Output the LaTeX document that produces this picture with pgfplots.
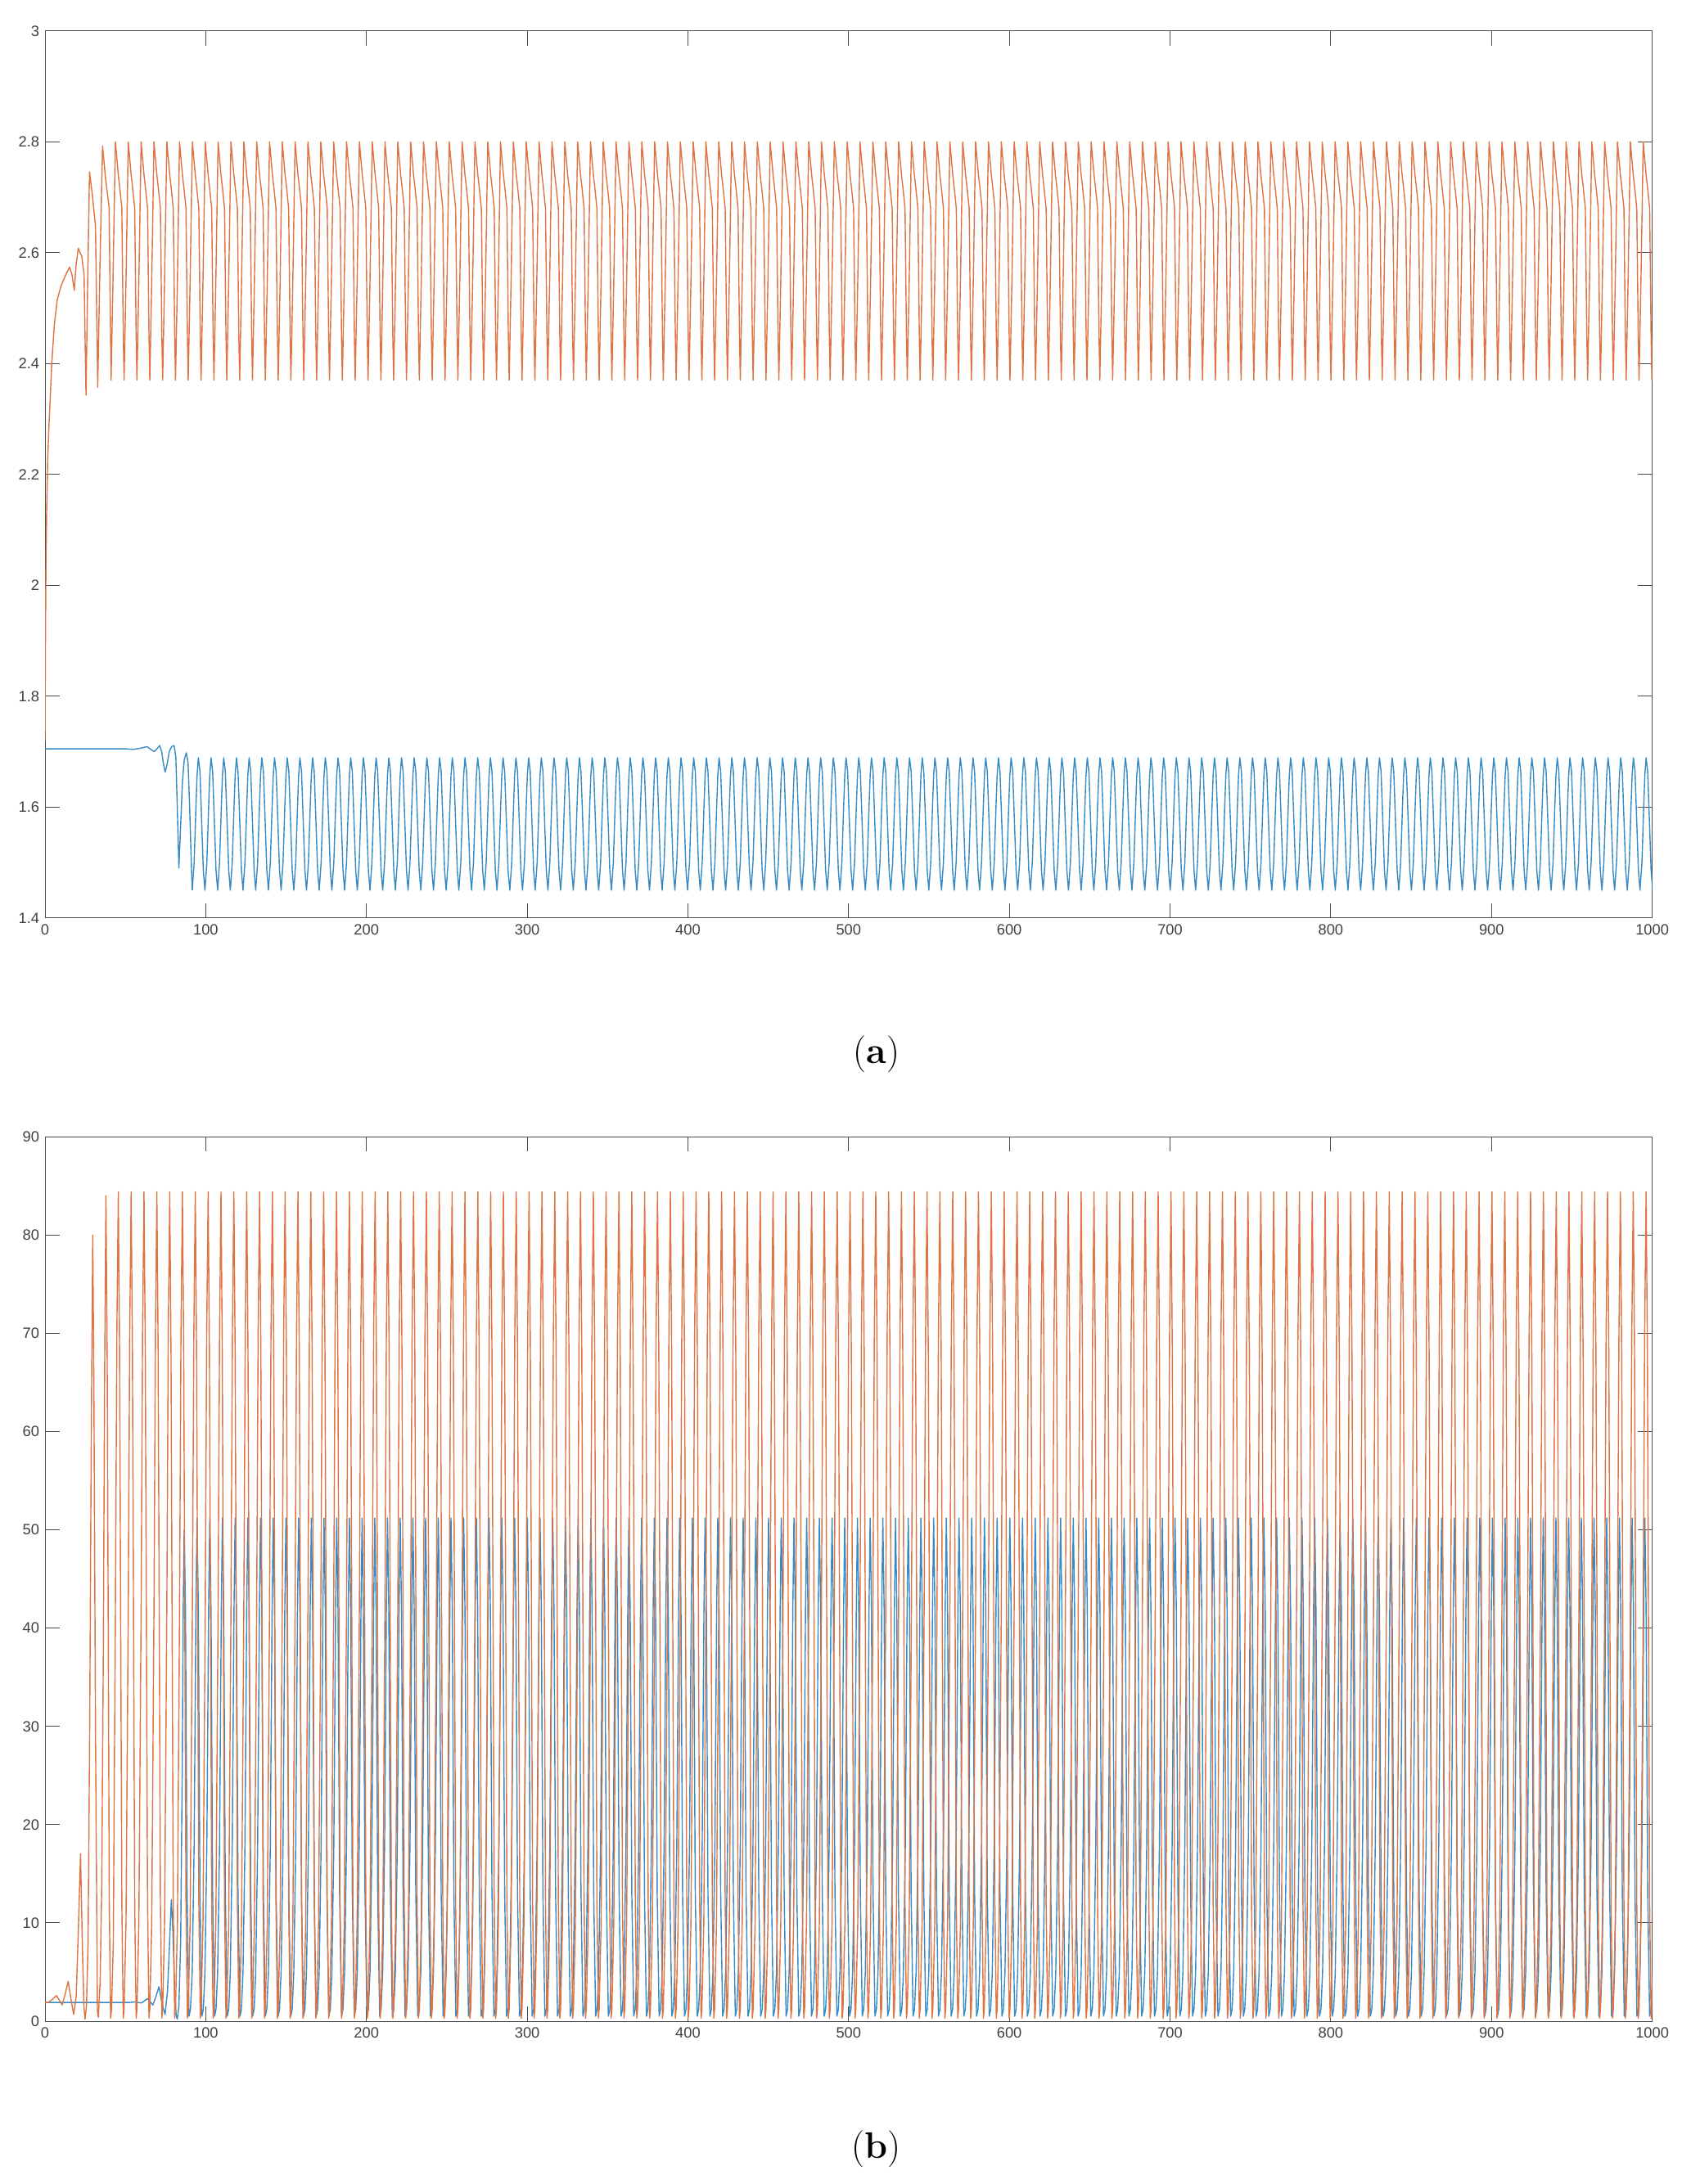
\documentclass[border=0pt]{standalone}
\usepackage{fontspec}
\usepackage{pgfplots}
\usepackage{pgfplotstable}
\pgfplotsset{compat=1.18}
\newfontfamily\octfont{Liberation Sans}
\definecolor{oblue}{RGB}{55,138,195}
\definecolor{oorange}{RGB}{222,115,68}

% steady oscillation, orange variable: x, panel (a), panel (b)
\pgfplotstableread[row sep=\\]{
x a b\\
43.8 2.8 42\\44.7 2.77 70\\45.6 2.74 84.4\\46.4 2.72 68\\47.8 2.68 12\\48.7 2.45 0.3\\49.2 2.37 1.2\\50.4 2.55 10\\
51.8 2.8 42\\52.7 2.77 70\\53.6 2.74 84.4\\54.4 2.72 68\\55.8 2.68 12\\56.7 2.45 0.3\\57.2 2.37 1.2\\58.4 2.55 10\\
59.8 2.8 42\\60.7 2.77 70\\61.6 2.74 84.4\\62.4 2.72 68\\63.8 2.68 12\\64.7 2.45 0.3\\65.2 2.37 1.2\\66.4 2.55 10\\
67.8 2.8 42\\68.7 2.77 70\\69.6 2.74 84.4\\70.4 2.72 68\\71.8 2.68 12\\72.7 2.45 0.3\\73.2 2.37 1.2\\74.4 2.55 10\\
75.8 2.8 42\\76.7 2.77 70\\77.6 2.74 84.4\\78.4 2.72 68\\79.8 2.68 12\\80.7 2.45 0.3\\81.2 2.37 1.2\\82.4 2.55 10\\
83.7 2.8 42\\84.6 2.77 70\\85.5 2.74 84.4\\86.3 2.72 68\\87.7 2.68 12\\88.6 2.45 0.3\\89.1 2.37 1.2\\90.3 2.55 10\\
91.7 2.8 42\\92.6 2.77 70\\93.5 2.74 84.4\\94.3 2.72 68\\95.7 2.68 12\\96.6 2.45 0.3\\97.1 2.37 1.2\\98.3 2.55 10\\
99.7 2.8 42\\100.6 2.77 70\\101.5 2.74 84.4\\102.3 2.72 68\\103.7 2.68 12\\104.6 2.45 0.3\\105.1 2.37 1.2\\106.3 2.55 10\\
107.7 2.8 42\\108.6 2.77 70\\109.5 2.74 84.4\\110.3 2.72 68\\111.7 2.68 12\\112.6 2.45 0.3\\113.1 2.37 1.2\\114.3 2.55 10\\
115.7 2.8 42\\116.6 2.77 70\\117.5 2.74 84.4\\118.3 2.72 68\\119.7 2.68 12\\120.6 2.45 0.3\\121.1 2.37 1.2\\122.3 2.55 10\\
123.7 2.8 42\\124.6 2.77 70\\125.5 2.74 84.4\\126.3 2.72 68\\127.7 2.68 12\\128.6 2.45 0.3\\129.1 2.37 1.2\\130.3 2.55 10\\
131.7 2.8 42\\132.6 2.77 70\\133.5 2.74 84.4\\134.3 2.72 68\\135.7 2.68 12\\136.6 2.45 0.3\\137.1 2.37 1.2\\138.3 2.55 10\\
139.7 2.8 42\\140.6 2.77 70\\141.5 2.74 84.4\\142.3 2.72 68\\143.7 2.68 12\\144.6 2.45 0.3\\145.1 2.37 1.2\\146.3 2.55 10\\
147.6 2.8 42\\148.5 2.77 70\\149.4 2.74 84.4\\150.2 2.72 68\\151.6 2.68 12\\152.5 2.45 0.3\\153.0 2.37 1.2\\154.2 2.55 10\\
155.6 2.8 42\\156.5 2.77 70\\157.4 2.74 84.4\\158.2 2.72 68\\159.6 2.68 12\\160.5 2.45 0.3\\161.0 2.37 1.2\\162.2 2.55 10\\
163.6 2.8 42\\164.5 2.77 70\\165.4 2.74 84.4\\166.2 2.72 68\\167.6 2.68 12\\168.5 2.45 0.3\\169.0 2.37 1.2\\170.2 2.55 10\\
171.6 2.8 42\\172.5 2.77 70\\173.4 2.74 84.4\\174.2 2.72 68\\175.6 2.68 12\\176.5 2.45 0.3\\177.0 2.37 1.2\\178.2 2.55 10\\
179.6 2.8 42\\180.5 2.77 70\\181.4 2.74 84.4\\182.2 2.72 68\\183.6 2.68 12\\184.5 2.45 0.3\\185.0 2.37 1.2\\186.2 2.55 10\\
187.6 2.8 42\\188.5 2.77 70\\189.4 2.74 84.4\\190.2 2.72 68\\191.6 2.68 12\\192.5 2.45 0.3\\193.0 2.37 1.2\\194.2 2.55 10\\
195.6 2.8 42\\196.5 2.77 70\\197.4 2.74 84.4\\198.2 2.72 68\\199.6 2.68 12\\200.5 2.45 0.3\\201.0 2.37 1.2\\202.2 2.55 10\\
203.6 2.8 42\\204.5 2.77 70\\205.4 2.74 84.4\\206.2 2.72 68\\207.6 2.68 12\\208.5 2.45 0.3\\209.0 2.37 1.2\\210.2 2.55 10\\
211.5 2.8 42\\212.4 2.77 70\\213.3 2.74 84.4\\214.1 2.72 68\\215.5 2.68 12\\216.4 2.45 0.3\\216.9 2.37 1.2\\218.1 2.55 10\\
219.5 2.8 42\\220.4 2.77 70\\221.3 2.74 84.4\\222.1 2.72 68\\223.5 2.68 12\\224.4 2.45 0.3\\224.9 2.37 1.2\\226.1 2.55 10\\
227.5 2.8 42\\228.4 2.77 70\\229.3 2.74 84.4\\230.1 2.72 68\\231.5 2.68 12\\232.4 2.45 0.3\\232.9 2.37 1.2\\234.1 2.55 10\\
235.5 2.8 42\\236.4 2.77 70\\237.3 2.74 84.4\\238.1 2.72 68\\239.5 2.68 12\\240.4 2.45 0.3\\240.9 2.37 1.2\\242.1 2.55 10\\
243.5 2.8 42\\244.4 2.77 70\\245.3 2.74 84.4\\246.1 2.72 68\\247.5 2.68 12\\248.4 2.45 0.3\\248.9 2.37 1.2\\250.1 2.55 10\\
251.5 2.8 42\\252.4 2.77 70\\253.3 2.74 84.4\\254.1 2.72 68\\255.5 2.68 12\\256.4 2.45 0.3\\256.9 2.37 1.2\\258.1 2.55 10\\
259.5 2.8 42\\260.4 2.77 70\\261.3 2.74 84.4\\262.1 2.72 68\\263.5 2.68 12\\264.4 2.45 0.3\\264.9 2.37 1.2\\266.1 2.55 10\\
267.5 2.8 42\\268.4 2.77 70\\269.3 2.74 84.4\\270.1 2.72 68\\271.5 2.68 12\\272.4 2.45 0.3\\272.9 2.37 1.2\\274.1 2.55 10\\
275.5 2.8 42\\276.4 2.77 70\\277.3 2.74 84.4\\278.1 2.72 68\\279.5 2.68 12\\280.4 2.45 0.3\\280.9 2.37 1.2\\282.1 2.55 10\\
283.4 2.8 42\\284.3 2.77 70\\285.2 2.74 84.4\\286.0 2.72 68\\287.4 2.68 12\\288.3 2.45 0.3\\288.8 2.37 1.2\\290.0 2.55 10\\
291.4 2.8 42\\292.3 2.77 70\\293.2 2.74 84.4\\294.0 2.72 68\\295.4 2.68 12\\296.3 2.45 0.3\\296.8 2.37 1.2\\298.0 2.55 10\\
299.4 2.8 42\\300.3 2.77 70\\301.2 2.74 84.4\\302.0 2.72 68\\303.4 2.68 12\\304.3 2.45 0.3\\304.8 2.37 1.2\\306.0 2.55 10\\
307.4 2.8 42\\308.3 2.77 70\\309.2 2.74 84.4\\310.0 2.72 68\\311.4 2.68 12\\312.3 2.45 0.3\\312.8 2.37 1.2\\314.0 2.55 10\\
315.4 2.8 42\\316.3 2.77 70\\317.2 2.74 84.4\\318.0 2.72 68\\319.4 2.68 12\\320.3 2.45 0.3\\320.8 2.37 1.2\\322.0 2.55 10\\
323.4 2.8 42\\324.3 2.77 70\\325.2 2.74 84.4\\326.0 2.72 68\\327.4 2.68 12\\328.3 2.45 0.3\\328.8 2.37 1.2\\330.0 2.55 10\\
331.4 2.8 42\\332.3 2.77 70\\333.2 2.74 84.4\\334.0 2.72 68\\335.4 2.68 12\\336.3 2.45 0.3\\336.8 2.37 1.2\\338.0 2.55 10\\
339.4 2.8 42\\340.3 2.77 70\\341.2 2.74 84.4\\342.0 2.72 68\\343.4 2.68 12\\344.3 2.45 0.3\\344.8 2.37 1.2\\346.0 2.55 10\\
347.3 2.8 42\\348.2 2.77 70\\349.1 2.74 84.4\\349.9 2.72 68\\351.3 2.68 12\\352.2 2.45 0.3\\352.7 2.37 1.2\\353.9 2.55 10\\
355.3 2.8 42\\356.2 2.77 70\\357.1 2.74 84.4\\357.9 2.72 68\\359.3 2.68 12\\360.2 2.45 0.3\\360.7 2.37 1.2\\361.9 2.55 10\\
363.3 2.8 42\\364.2 2.77 70\\365.1 2.74 84.4\\365.9 2.72 68\\367.3 2.68 12\\368.2 2.45 0.3\\368.7 2.37 1.2\\369.9 2.55 10\\
371.3 2.8 42\\372.2 2.77 70\\373.1 2.74 84.4\\373.9 2.72 68\\375.3 2.68 12\\376.2 2.45 0.3\\376.7 2.37 1.2\\377.9 2.55 10\\
379.3 2.8 42\\380.2 2.77 70\\381.1 2.74 84.4\\381.9 2.72 68\\383.3 2.68 12\\384.2 2.45 0.3\\384.7 2.37 1.2\\385.9 2.55 10\\
387.3 2.8 42\\388.2 2.77 70\\389.1 2.74 84.4\\389.9 2.72 68\\391.3 2.68 12\\392.2 2.45 0.3\\392.7 2.37 1.2\\393.9 2.55 10\\
395.3 2.8 42\\396.2 2.77 70\\397.1 2.74 84.4\\397.9 2.72 68\\399.3 2.68 12\\400.2 2.45 0.3\\400.7 2.37 1.2\\401.9 2.55 10\\
403.3 2.8 42\\404.2 2.77 70\\405.1 2.74 84.4\\405.9 2.72 68\\407.3 2.68 12\\408.2 2.45 0.3\\408.7 2.37 1.2\\409.9 2.55 10\\
411.2 2.8 42\\412.1 2.77 70\\413.0 2.74 84.4\\413.8 2.72 68\\415.2 2.68 12\\416.1 2.45 0.3\\416.6 2.37 1.2\\417.8 2.55 10\\
419.2 2.8 42\\420.1 2.77 70\\421.0 2.74 84.4\\421.8 2.72 68\\423.2 2.68 12\\424.1 2.45 0.3\\424.6 2.37 1.2\\425.8 2.55 10\\
427.2 2.8 42\\428.1 2.77 70\\429.0 2.74 84.4\\429.8 2.72 68\\431.2 2.68 12\\432.1 2.45 0.3\\432.6 2.37 1.2\\433.8 2.55 10\\
435.2 2.8 42\\436.1 2.77 70\\437.0 2.74 84.4\\437.8 2.72 68\\439.2 2.68 12\\440.1 2.45 0.3\\440.6 2.37 1.2\\441.8 2.55 10\\
443.2 2.8 42\\444.1 2.77 70\\445.0 2.74 84.4\\445.8 2.72 68\\447.2 2.68 12\\448.1 2.45 0.3\\448.6 2.37 1.2\\449.8 2.55 10\\
451.2 2.8 42\\452.1 2.77 70\\453.0 2.74 84.4\\453.8 2.72 68\\455.2 2.68 12\\456.1 2.45 0.3\\456.6 2.37 1.2\\457.8 2.55 10\\
459.2 2.8 42\\460.1 2.77 70\\461.0 2.74 84.4\\461.8 2.72 68\\463.2 2.68 12\\464.1 2.45 0.3\\464.6 2.37 1.2\\465.8 2.55 10\\
467.2 2.8 42\\468.1 2.77 70\\469.0 2.74 84.4\\469.8 2.72 68\\471.2 2.68 12\\472.1 2.45 0.3\\472.6 2.37 1.2\\473.8 2.55 10\\
475.2 2.8 42\\476.1 2.77 70\\477.0 2.74 84.4\\477.8 2.72 68\\479.2 2.68 12\\480.1 2.45 0.3\\480.6 2.37 1.2\\481.8 2.55 10\\
483.1 2.8 42\\484.0 2.77 70\\484.9 2.74 84.4\\485.7 2.72 68\\487.1 2.68 12\\488.0 2.45 0.3\\488.5 2.37 1.2\\489.7 2.55 10\\
491.1 2.8 42\\492.0 2.77 70\\492.9 2.74 84.4\\493.7 2.72 68\\495.1 2.68 12\\496.0 2.45 0.3\\496.5 2.37 1.2\\497.7 2.55 10\\
499.1 2.8 42\\500.0 2.77 70\\500.9 2.74 84.4\\501.7 2.72 68\\503.1 2.68 12\\504.0 2.45 0.3\\504.5 2.37 1.2\\505.7 2.55 10\\
507.1 2.8 42\\508.0 2.77 70\\508.9 2.74 84.4\\509.7 2.72 68\\511.1 2.68 12\\512.0 2.45 0.3\\512.5 2.37 1.2\\513.7 2.55 10\\
515.1 2.8 42\\516.0 2.77 70\\516.9 2.74 84.4\\517.7 2.72 68\\519.1 2.68 12\\520.0 2.45 0.3\\520.5 2.37 1.2\\521.7 2.55 10\\
523.1 2.8 42\\524.0 2.77 70\\524.9 2.74 84.4\\525.7 2.72 68\\527.1 2.68 12\\528.0 2.45 0.3\\528.5 2.37 1.2\\529.7 2.55 10\\
531.1 2.8 42\\532.0 2.77 70\\532.9 2.74 84.4\\533.7 2.72 68\\535.1 2.68 12\\536.0 2.45 0.3\\536.5 2.37 1.2\\537.7 2.55 10\\
539.1 2.8 42\\540.0 2.77 70\\540.9 2.74 84.4\\541.7 2.72 68\\543.1 2.68 12\\544.0 2.45 0.3\\544.5 2.37 1.2\\545.7 2.55 10\\
547.0 2.8 42\\547.9 2.77 70\\548.8 2.74 84.4\\549.6 2.72 68\\551.0 2.68 12\\551.9 2.45 0.3\\552.4 2.37 1.2\\553.6 2.55 10\\
555.0 2.8 42\\555.9 2.77 70\\556.8 2.74 84.4\\557.6 2.72 68\\559.0 2.68 12\\559.9 2.45 0.3\\560.4 2.37 1.2\\561.6 2.55 10\\
563.0 2.8 42\\563.9 2.77 70\\564.8 2.74 84.4\\565.6 2.72 68\\567.0 2.68 12\\567.9 2.45 0.3\\568.4 2.37 1.2\\569.6 2.55 10\\
571.0 2.8 42\\571.9 2.77 70\\572.8 2.74 84.4\\573.6 2.72 68\\575.0 2.68 12\\575.9 2.45 0.3\\576.4 2.37 1.2\\577.6 2.55 10\\
579.0 2.8 42\\579.9 2.77 70\\580.8 2.74 84.4\\581.6 2.72 68\\583.0 2.68 12\\583.9 2.45 0.3\\584.4 2.37 1.2\\585.6 2.55 10\\
587.0 2.8 42\\587.9 2.77 70\\588.8 2.74 84.4\\589.6 2.72 68\\591.0 2.68 12\\591.9 2.45 0.3\\592.4 2.37 1.2\\593.6 2.55 10\\
595.0 2.8 42\\595.9 2.77 70\\596.8 2.74 84.4\\597.6 2.72 68\\599.0 2.68 12\\599.9 2.45 0.3\\600.4 2.37 1.2\\601.6 2.55 10\\
603.0 2.8 42\\603.9 2.77 70\\604.8 2.74 84.4\\605.6 2.72 68\\607.0 2.68 12\\607.9 2.45 0.3\\608.4 2.37 1.2\\609.6 2.55 10\\
610.9 2.8 42\\611.8 2.77 70\\612.7 2.74 84.4\\613.5 2.72 68\\614.9 2.68 12\\615.8 2.45 0.3\\616.3 2.37 1.2\\617.5 2.55 10\\
618.9 2.8 42\\619.8 2.77 70\\620.7 2.74 84.4\\621.5 2.72 68\\622.9 2.68 12\\623.8 2.45 0.3\\624.3 2.37 1.2\\625.5 2.55 10\\
626.9 2.8 42\\627.8 2.77 70\\628.7 2.74 84.4\\629.5 2.72 68\\630.9 2.68 12\\631.8 2.45 0.3\\632.3 2.37 1.2\\633.5 2.55 10\\
634.9 2.8 42\\635.8 2.77 70\\636.7 2.74 84.4\\637.5 2.72 68\\638.9 2.68 12\\639.8 2.45 0.3\\640.3 2.37 1.2\\641.5 2.55 10\\
642.9 2.8 42\\643.8 2.77 70\\644.7 2.74 84.4\\645.5 2.72 68\\646.9 2.68 12\\647.8 2.45 0.3\\648.3 2.37 1.2\\649.5 2.55 10\\
650.9 2.8 42\\651.8 2.77 70\\652.7 2.74 84.4\\653.5 2.72 68\\654.9 2.68 12\\655.8 2.45 0.3\\656.3 2.37 1.2\\657.5 2.55 10\\
658.9 2.8 42\\659.8 2.77 70\\660.7 2.74 84.4\\661.5 2.72 68\\662.9 2.68 12\\663.8 2.45 0.3\\664.3 2.37 1.2\\665.5 2.55 10\\
666.9 2.8 42\\667.8 2.77 70\\668.7 2.74 84.4\\669.5 2.72 68\\670.9 2.68 12\\671.8 2.45 0.3\\672.3 2.37 1.2\\673.5 2.55 10\\
674.9 2.8 42\\675.8 2.77 70\\676.7 2.74 84.4\\677.5 2.72 68\\678.9 2.68 12\\679.8 2.45 0.3\\680.3 2.37 1.2\\681.5 2.55 10\\
682.8 2.8 42\\683.7 2.77 70\\684.6 2.74 84.4\\685.4 2.72 68\\686.8 2.68 12\\687.7 2.45 0.3\\688.2 2.37 1.2\\689.4 2.55 10\\
690.8 2.8 42\\691.7 2.77 70\\692.6 2.74 84.4\\693.4 2.72 68\\694.8 2.68 12\\695.7 2.45 0.3\\696.2 2.37 1.2\\697.4 2.55 10\\
698.8 2.8 42\\699.7 2.77 70\\700.6 2.74 84.4\\701.4 2.72 68\\702.8 2.68 12\\703.7 2.45 0.3\\704.2 2.37 1.2\\705.4 2.55 10\\
706.8 2.8 42\\707.7 2.77 70\\708.6 2.74 84.4\\709.4 2.72 68\\710.8 2.68 12\\711.7 2.45 0.3\\712.2 2.37 1.2\\713.4 2.55 10\\
714.8 2.8 42\\715.7 2.77 70\\716.6 2.74 84.4\\717.4 2.72 68\\718.8 2.68 12\\719.7 2.45 0.3\\720.2 2.37 1.2\\721.4 2.55 10\\
722.8 2.8 42\\723.7 2.77 70\\724.6 2.74 84.4\\725.4 2.72 68\\726.8 2.68 12\\727.7 2.45 0.3\\728.2 2.37 1.2\\729.4 2.55 10\\
730.8 2.8 42\\731.7 2.77 70\\732.6 2.74 84.4\\733.4 2.72 68\\734.8 2.68 12\\735.7 2.45 0.3\\736.2 2.37 1.2\\737.4 2.55 10\\
738.8 2.8 42\\739.7 2.77 70\\740.6 2.74 84.4\\741.4 2.72 68\\742.8 2.68 12\\743.7 2.45 0.3\\744.2 2.37 1.2\\745.4 2.55 10\\
746.7 2.8 42\\747.6 2.77 70\\748.5 2.74 84.4\\749.3 2.72 68\\750.7 2.68 12\\751.6 2.45 0.3\\752.1 2.37 1.2\\753.3 2.55 10\\
754.7 2.8 42\\755.6 2.77 70\\756.5 2.74 84.4\\757.3 2.72 68\\758.7 2.68 12\\759.6 2.45 0.3\\760.1 2.37 1.2\\761.3 2.55 10\\
762.7 2.8 42\\763.6 2.77 70\\764.5 2.74 84.4\\765.3 2.72 68\\766.7 2.68 12\\767.6 2.45 0.3\\768.1 2.37 1.2\\769.3 2.55 10\\
770.7 2.8 42\\771.6 2.77 70\\772.5 2.74 84.4\\773.3 2.72 68\\774.7 2.68 12\\775.6 2.45 0.3\\776.1 2.37 1.2\\777.3 2.55 10\\
778.7 2.8 42\\779.6 2.77 70\\780.5 2.74 84.4\\781.3 2.72 68\\782.7 2.68 12\\783.6 2.45 0.3\\784.1 2.37 1.2\\785.3 2.55 10\\
786.7 2.8 42\\787.6 2.77 70\\788.5 2.74 84.4\\789.3 2.72 68\\790.7 2.68 12\\791.6 2.45 0.3\\792.1 2.37 1.2\\793.3 2.55 10\\
794.7 2.8 42\\795.6 2.77 70\\796.5 2.74 84.4\\797.3 2.72 68\\798.7 2.68 12\\799.6 2.45 0.3\\800.1 2.37 1.2\\801.3 2.55 10\\
802.7 2.8 42\\803.6 2.77 70\\804.5 2.74 84.4\\805.3 2.72 68\\806.7 2.68 12\\807.6 2.45 0.3\\808.1 2.37 1.2\\809.3 2.55 10\\
810.6 2.8 42\\811.5 2.77 70\\812.4 2.74 84.4\\813.2 2.72 68\\814.6 2.68 12\\815.5 2.45 0.3\\816.0 2.37 1.2\\817.2 2.55 10\\
818.6 2.8 42\\819.5 2.77 70\\820.4 2.74 84.4\\821.2 2.72 68\\822.6 2.68 12\\823.5 2.45 0.3\\824.0 2.37 1.2\\825.2 2.55 10\\
826.6 2.8 42\\827.5 2.77 70\\828.4 2.74 84.4\\829.2 2.72 68\\830.6 2.68 12\\831.5 2.45 0.3\\832.0 2.37 1.2\\833.2 2.55 10\\
834.6 2.8 42\\835.5 2.77 70\\836.4 2.74 84.4\\837.2 2.72 68\\838.6 2.68 12\\839.5 2.45 0.3\\840.0 2.37 1.2\\841.2 2.55 10\\
842.6 2.8 42\\843.5 2.77 70\\844.4 2.74 84.4\\845.2 2.72 68\\846.6 2.68 12\\847.5 2.45 0.3\\848.0 2.37 1.2\\849.2 2.55 10\\
850.6 2.8 42\\851.5 2.77 70\\852.4 2.74 84.4\\853.2 2.72 68\\854.6 2.68 12\\855.5 2.45 0.3\\856.0 2.37 1.2\\857.2 2.55 10\\
858.6 2.8 42\\859.5 2.77 70\\860.4 2.74 84.4\\861.2 2.72 68\\862.6 2.68 12\\863.5 2.45 0.3\\864.0 2.37 1.2\\865.2 2.55 10\\
866.6 2.8 42\\867.5 2.77 70\\868.4 2.74 84.4\\869.2 2.72 68\\870.6 2.68 12\\871.5 2.45 0.3\\872.0 2.37 1.2\\873.2 2.55 10\\
874.6 2.8 42\\875.5 2.77 70\\876.4 2.74 84.4\\877.2 2.72 68\\878.6 2.68 12\\879.5 2.45 0.3\\880.0 2.37 1.2\\881.2 2.55 10\\
882.5 2.8 42\\883.4 2.77 70\\884.3 2.74 84.4\\885.1 2.72 68\\886.5 2.68 12\\887.4 2.45 0.3\\887.9 2.37 1.2\\889.1 2.55 10\\
890.5 2.8 42\\891.4 2.77 70\\892.3 2.74 84.4\\893.1 2.72 68\\894.5 2.68 12\\895.4 2.45 0.3\\895.9 2.37 1.2\\897.1 2.55 10\\
898.5 2.8 42\\899.4 2.77 70\\900.3 2.74 84.4\\901.1 2.72 68\\902.5 2.68 12\\903.4 2.45 0.3\\903.9 2.37 1.2\\905.1 2.55 10\\
906.5 2.8 42\\907.4 2.77 70\\908.3 2.74 84.4\\909.1 2.72 68\\910.5 2.68 12\\911.4 2.45 0.3\\911.9 2.37 1.2\\913.1 2.55 10\\
914.5 2.8 42\\915.4 2.77 70\\916.3 2.74 84.4\\917.1 2.72 68\\918.5 2.68 12\\919.4 2.45 0.3\\919.9 2.37 1.2\\921.1 2.55 10\\
922.5 2.8 42\\923.4 2.77 70\\924.3 2.74 84.4\\925.1 2.72 68\\926.5 2.68 12\\927.4 2.45 0.3\\927.9 2.37 1.2\\929.1 2.55 10\\
930.5 2.8 42\\931.4 2.77 70\\932.3 2.74 84.4\\933.1 2.72 68\\934.5 2.68 12\\935.4 2.45 0.3\\935.9 2.37 1.2\\937.1 2.55 10\\
938.5 2.8 42\\939.4 2.77 70\\940.3 2.74 84.4\\941.1 2.72 68\\942.5 2.68 12\\943.4 2.45 0.3\\943.9 2.37 1.2\\945.1 2.55 10\\
946.4 2.8 42\\947.3 2.77 70\\948.2 2.74 84.4\\949.0 2.72 68\\950.4 2.68 12\\951.3 2.45 0.3\\951.8 2.37 1.2\\953.0 2.55 10\\
954.4 2.8 42\\955.3 2.77 70\\956.2 2.74 84.4\\957.0 2.72 68\\958.4 2.68 12\\959.3 2.45 0.3\\959.8 2.37 1.2\\961.0 2.55 10\\
962.4 2.8 42\\963.3 2.77 70\\964.2 2.74 84.4\\965.0 2.72 68\\966.4 2.68 12\\967.3 2.45 0.3\\967.8 2.37 1.2\\969.0 2.55 10\\
970.4 2.8 42\\971.3 2.77 70\\972.2 2.74 84.4\\973.0 2.72 68\\974.4 2.68 12\\975.3 2.45 0.3\\975.8 2.37 1.2\\977.0 2.55 10\\
978.4 2.8 42\\979.3 2.77 70\\980.2 2.74 84.4\\981.0 2.72 68\\982.4 2.68 12\\983.3 2.45 0.3\\983.8 2.37 1.2\\985.0 2.55 10\\
986.4 2.8 42\\987.3 2.77 70\\988.2 2.74 84.4\\989.0 2.72 68\\990.4 2.68 12\\991.3 2.45 0.3\\991.8 2.37 1.2\\993.0 2.55 10\\
994.4 2.8 42\\995.3 2.77 70\\996.2 2.74 84.4\\997.0 2.72 68\\998.4 2.68 12\\999.3 2.45 0.3\\999.8 2.37 1.2\\1001.0 2.55 10\\
}\orangedata

% steady oscillation, blue variable: x, panel (a), panel (b)
\pgfplotstableread[row sep=\\]{
x a b\\
91.6 1.45 5\\92.8 1.5 18\\93.9 1.6 42\\94.6 1.657 51.2\\95.4 1.689 42\\96.4 1.664 13\\97.6 1.563 0.5\\98.5 1.486 1.2\\
99.5 1.45 5\\100.7 1.5 18\\101.8 1.6 42\\102.5 1.657 51.2\\103.3 1.689 42\\104.3 1.664 13\\105.5 1.563 0.5\\106.4 1.486 1.2\\
107.4 1.45 5\\108.6 1.5 18\\109.7 1.6 42\\110.4 1.657 51.2\\111.2 1.689 42\\112.2 1.664 13\\113.4 1.563 0.5\\114.3 1.486 1.2\\
115.3 1.45 5\\116.5 1.5 18\\117.6 1.6 42\\118.3 1.657 51.2\\119.1 1.689 42\\120.1 1.664 13\\121.3 1.563 0.5\\122.2 1.486 1.2\\
123.2 1.45 5\\124.4 1.5 18\\125.5 1.6 42\\126.2 1.657 51.2\\127.0 1.689 42\\128.0 1.664 13\\129.2 1.563 0.5\\130.1 1.486 1.2\\
131.1 1.45 5\\132.3 1.5 18\\133.4 1.6 42\\134.1 1.657 51.2\\134.9 1.689 42\\135.9 1.664 13\\137.1 1.563 0.5\\138.0 1.486 1.2\\
139.0 1.45 5\\140.2 1.5 18\\141.3 1.6 42\\142.0 1.657 51.2\\142.8 1.689 42\\143.8 1.664 13\\145.0 1.563 0.5\\145.9 1.486 1.2\\
146.9 1.45 5\\148.1 1.5 18\\149.2 1.6 42\\149.9 1.657 51.2\\150.7 1.689 42\\151.7 1.664 13\\152.9 1.563 0.5\\153.8 1.486 1.2\\
154.8 1.45 5\\156.0 1.5 18\\157.1 1.6 42\\157.8 1.657 51.2\\158.6 1.689 42\\159.6 1.664 13\\160.8 1.563 0.5\\161.7 1.486 1.2\\
162.7 1.45 5\\163.9 1.5 18\\165.0 1.6 42\\165.7 1.657 51.2\\166.5 1.689 42\\167.5 1.664 13\\168.7 1.563 0.5\\169.6 1.486 1.2\\
170.6 1.45 5\\171.8 1.5 18\\172.9 1.6 42\\173.6 1.657 51.2\\174.4 1.689 42\\175.4 1.664 13\\176.6 1.563 0.5\\177.5 1.486 1.2\\
178.5 1.45 5\\179.7 1.5 18\\180.8 1.6 42\\181.5 1.657 51.2\\182.3 1.689 42\\183.3 1.664 13\\184.5 1.563 0.5\\185.4 1.486 1.2\\
186.4 1.45 5\\187.6 1.5 18\\188.7 1.6 42\\189.4 1.657 51.2\\190.2 1.689 42\\191.2 1.664 13\\192.4 1.563 0.5\\193.3 1.486 1.2\\
194.3 1.45 5\\195.5 1.5 18\\196.6 1.6 42\\197.3 1.657 51.2\\198.1 1.689 42\\199.1 1.664 13\\200.3 1.563 0.5\\201.2 1.486 1.2\\
202.2 1.45 5\\203.4 1.5 18\\204.5 1.6 42\\205.2 1.657 51.2\\206.0 1.689 42\\207.0 1.664 13\\208.2 1.563 0.5\\209.1 1.486 1.2\\
210.1 1.45 5\\211.3 1.5 18\\212.4 1.6 42\\213.1 1.657 51.2\\213.9 1.689 42\\214.9 1.664 13\\216.1 1.563 0.5\\217.0 1.486 1.2\\
218.0 1.45 5\\219.2 1.5 18\\220.3 1.6 42\\221.0 1.657 51.2\\221.8 1.689 42\\222.8 1.664 13\\224.0 1.563 0.5\\224.9 1.486 1.2\\
225.9 1.45 5\\227.1 1.5 18\\228.2 1.6 42\\228.9 1.657 51.2\\229.7 1.689 42\\230.7 1.664 13\\231.9 1.563 0.5\\232.8 1.486 1.2\\
233.8 1.45 5\\235.0 1.5 18\\236.1 1.6 42\\236.8 1.657 51.2\\237.6 1.689 42\\238.6 1.664 13\\239.8 1.563 0.5\\240.7 1.486 1.2\\
241.7 1.45 5\\242.9 1.5 18\\244.0 1.6 42\\244.7 1.657 51.2\\245.5 1.689 42\\246.5 1.664 13\\247.7 1.563 0.5\\248.6 1.486 1.2\\
249.6 1.45 5\\250.8 1.5 18\\251.9 1.6 42\\252.6 1.657 51.2\\253.4 1.689 42\\254.4 1.664 13\\255.6 1.563 0.5\\256.5 1.486 1.2\\
257.5 1.45 5\\258.7 1.5 18\\259.8 1.6 42\\260.5 1.657 51.2\\261.3 1.689 42\\262.3 1.664 13\\263.5 1.563 0.5\\264.4 1.486 1.2\\
265.4 1.45 5\\266.6 1.5 18\\267.7 1.6 42\\268.4 1.657 51.2\\269.2 1.689 42\\270.2 1.664 13\\271.4 1.563 0.5\\272.3 1.486 1.2\\
273.3 1.45 5\\274.5 1.5 18\\275.6 1.6 42\\276.3 1.657 51.2\\277.1 1.689 42\\278.1 1.664 13\\279.3 1.563 0.5\\280.2 1.486 1.2\\
281.2 1.45 5\\282.4 1.5 18\\283.5 1.6 42\\284.2 1.657 51.2\\285.0 1.689 42\\286.0 1.664 13\\287.2 1.563 0.5\\288.1 1.486 1.2\\
289.2 1.45 5\\290.4 1.5 18\\291.5 1.6 42\\292.2 1.657 51.2\\293.0 1.689 42\\294.0 1.664 13\\295.2 1.563 0.5\\296.1 1.486 1.2\\
297.1 1.45 5\\298.3 1.5 18\\299.4 1.6 42\\300.1 1.657 51.2\\300.9 1.689 42\\301.9 1.664 13\\303.1 1.563 0.5\\304.0 1.486 1.2\\
305.0 1.45 5\\306.2 1.5 18\\307.3 1.6 42\\308.0 1.657 51.2\\308.8 1.689 42\\309.8 1.664 13\\311.0 1.563 0.5\\311.9 1.486 1.2\\
312.9 1.45 5\\314.1 1.5 18\\315.2 1.6 42\\315.9 1.657 51.2\\316.7 1.689 42\\317.7 1.664 13\\318.9 1.563 0.5\\319.8 1.486 1.2\\
320.8 1.45 5\\322.0 1.5 18\\323.1 1.6 42\\323.8 1.657 51.2\\324.6 1.689 42\\325.6 1.664 13\\326.8 1.563 0.5\\327.7 1.486 1.2\\
328.7 1.45 5\\329.9 1.5 18\\331.0 1.6 42\\331.7 1.657 51.2\\332.5 1.689 42\\333.5 1.664 13\\334.7 1.563 0.5\\335.6 1.486 1.2\\
336.6 1.45 5\\337.8 1.5 18\\338.9 1.6 42\\339.6 1.657 51.2\\340.4 1.689 42\\341.4 1.664 13\\342.6 1.563 0.5\\343.5 1.486 1.2\\
344.5 1.45 5\\345.7 1.5 18\\346.8 1.6 42\\347.5 1.657 51.2\\348.3 1.689 42\\349.3 1.664 13\\350.5 1.563 0.5\\351.4 1.486 1.2\\
352.4 1.45 5\\353.6 1.5 18\\354.7 1.6 42\\355.4 1.657 51.2\\356.2 1.689 42\\357.2 1.664 13\\358.4 1.563 0.5\\359.3 1.486 1.2\\
360.3 1.45 5\\361.5 1.5 18\\362.6 1.6 42\\363.3 1.657 51.2\\364.1 1.689 42\\365.1 1.664 13\\366.3 1.563 0.5\\367.2 1.486 1.2\\
368.2 1.45 5\\369.4 1.5 18\\370.5 1.6 42\\371.2 1.657 51.2\\372.0 1.689 42\\373.0 1.664 13\\374.2 1.563 0.5\\375.1 1.486 1.2\\
376.1 1.45 5\\377.3 1.5 18\\378.4 1.6 42\\379.1 1.657 51.2\\379.9 1.689 42\\380.9 1.664 13\\382.1 1.563 0.5\\383.0 1.486 1.2\\
384.0 1.45 5\\385.2 1.5 18\\386.3 1.6 42\\387.0 1.657 51.2\\387.8 1.689 42\\388.8 1.664 13\\390.0 1.563 0.5\\390.9 1.486 1.2\\
391.9 1.45 5\\393.1 1.5 18\\394.2 1.6 42\\394.9 1.657 51.2\\395.7 1.689 42\\396.7 1.664 13\\397.9 1.563 0.5\\398.8 1.486 1.2\\
399.8 1.45 5\\401.0 1.5 18\\402.1 1.6 42\\402.8 1.657 51.2\\403.6 1.689 42\\404.6 1.664 13\\405.8 1.563 0.5\\406.7 1.486 1.2\\
407.7 1.45 5\\408.9 1.5 18\\410.0 1.6 42\\410.7 1.657 51.2\\411.5 1.689 42\\412.5 1.664 13\\413.7 1.563 0.5\\414.6 1.486 1.2\\
415.6 1.45 5\\416.8 1.5 18\\417.9 1.6 42\\418.6 1.657 51.2\\419.4 1.689 42\\420.4 1.664 13\\421.6 1.563 0.5\\422.5 1.486 1.2\\
423.5 1.45 5\\424.7 1.5 18\\425.8 1.6 42\\426.5 1.657 51.2\\427.3 1.689 42\\428.3 1.664 13\\429.5 1.563 0.5\\430.4 1.486 1.2\\
431.4 1.45 5\\432.6 1.5 18\\433.7 1.6 42\\434.4 1.657 51.2\\435.2 1.689 42\\436.2 1.664 13\\437.4 1.563 0.5\\438.3 1.486 1.2\\
439.3 1.45 5\\440.5 1.5 18\\441.6 1.6 42\\442.3 1.657 51.2\\443.1 1.689 42\\444.1 1.664 13\\445.3 1.563 0.5\\446.2 1.486 1.2\\
447.2 1.45 5\\448.4 1.5 18\\449.5 1.6 42\\450.2 1.657 51.2\\451.0 1.689 42\\452.0 1.664 13\\453.2 1.563 0.5\\454.1 1.486 1.2\\
455.1 1.45 5\\456.3 1.5 18\\457.4 1.6 42\\458.1 1.657 51.2\\458.9 1.689 42\\459.9 1.664 13\\461.1 1.563 0.5\\462.0 1.486 1.2\\
463.0 1.45 5\\464.2 1.5 18\\465.3 1.6 42\\466.0 1.657 51.2\\466.8 1.689 42\\467.8 1.664 13\\469.0 1.563 0.5\\469.9 1.486 1.2\\
470.9 1.45 5\\472.1 1.5 18\\473.2 1.6 42\\473.9 1.657 51.2\\474.7 1.689 42\\475.7 1.664 13\\476.9 1.563 0.5\\477.8 1.486 1.2\\
478.8 1.45 5\\480.0 1.5 18\\481.1 1.6 42\\481.8 1.657 51.2\\482.6 1.689 42\\483.6 1.664 13\\484.8 1.563 0.5\\485.7 1.486 1.2\\
486.7 1.45 5\\487.9 1.5 18\\489.0 1.6 42\\489.7 1.657 51.2\\490.5 1.689 42\\491.5 1.664 13\\492.7 1.563 0.5\\493.6 1.486 1.2\\
494.6 1.45 5\\495.8 1.5 18\\496.9 1.6 42\\497.6 1.657 51.2\\498.4 1.689 42\\499.4 1.664 13\\500.6 1.563 0.5\\501.5 1.486 1.2\\
502.5 1.45 5\\503.7 1.5 18\\504.8 1.6 42\\505.5 1.657 51.2\\506.3 1.689 42\\507.3 1.664 13\\508.5 1.563 0.5\\509.4 1.486 1.2\\
510.4 1.45 5\\511.6 1.5 18\\512.7 1.6 42\\513.4 1.657 51.2\\514.2 1.689 42\\515.2 1.664 13\\516.4 1.563 0.5\\517.3 1.486 1.2\\
518.3 1.45 5\\519.5 1.5 18\\520.6 1.6 42\\521.3 1.657 51.2\\522.1 1.689 42\\523.1 1.664 13\\524.3 1.563 0.5\\525.2 1.486 1.2\\
526.2 1.45 5\\527.4 1.5 18\\528.5 1.6 42\\529.2 1.657 51.2\\530.0 1.689 42\\531.0 1.664 13\\532.2 1.563 0.5\\533.1 1.486 1.2\\
534.1 1.45 5\\535.3 1.5 18\\536.4 1.6 42\\537.1 1.657 51.2\\537.9 1.689 42\\538.9 1.664 13\\540.1 1.563 0.5\\541.0 1.486 1.2\\
542.0 1.45 5\\543.2 1.5 18\\544.3 1.6 42\\545.0 1.657 51.2\\545.8 1.689 42\\546.8 1.664 13\\548.0 1.563 0.5\\548.9 1.486 1.2\\
549.9 1.45 5\\551.1 1.5 18\\552.2 1.6 42\\552.9 1.657 51.2\\553.7 1.689 42\\554.7 1.664 13\\555.9 1.563 0.5\\556.8 1.486 1.2\\
557.8 1.45 5\\559.0 1.5 18\\560.1 1.6 42\\560.8 1.657 51.2\\561.6 1.689 42\\562.6 1.664 13\\563.8 1.563 0.5\\564.7 1.486 1.2\\
565.7 1.45 5\\566.9 1.5 18\\568.0 1.6 42\\568.7 1.657 51.2\\569.5 1.689 42\\570.5 1.664 13\\571.7 1.563 0.5\\572.6 1.486 1.2\\
573.6 1.45 5\\574.8 1.5 18\\575.9 1.6 42\\576.6 1.657 51.2\\577.4 1.689 42\\578.4 1.664 13\\579.6 1.563 0.5\\580.5 1.486 1.2\\
581.5 1.45 5\\582.7 1.5 18\\583.8 1.6 42\\584.5 1.657 51.2\\585.3 1.689 42\\586.3 1.664 13\\587.5 1.563 0.5\\588.4 1.486 1.2\\
589.4 1.45 5\\590.6 1.5 18\\591.7 1.6 42\\592.4 1.657 51.2\\593.2 1.689 42\\594.2 1.664 13\\595.4 1.563 0.5\\596.3 1.486 1.2\\
597.3 1.45 5\\598.5 1.5 18\\599.6 1.6 42\\600.3 1.657 51.2\\601.1 1.689 42\\602.1 1.664 13\\603.3 1.563 0.5\\604.2 1.486 1.2\\
605.2 1.45 5\\606.4 1.5 18\\607.5 1.6 42\\608.2 1.657 51.2\\609.0 1.689 42\\610.0 1.664 13\\611.2 1.563 0.5\\612.1 1.486 1.2\\
613.1 1.45 5\\614.3 1.5 18\\615.4 1.6 42\\616.1 1.657 51.2\\616.9 1.689 42\\617.9 1.664 13\\619.1 1.563 0.5\\620.0 1.486 1.2\\
621.0 1.45 5\\622.2 1.5 18\\623.3 1.6 42\\624.0 1.657 51.2\\624.8 1.689 42\\625.8 1.664 13\\627.0 1.563 0.5\\627.9 1.486 1.2\\
628.9 1.45 5\\630.1 1.5 18\\631.2 1.6 42\\631.9 1.657 51.2\\632.7 1.689 42\\633.7 1.664 13\\634.9 1.563 0.5\\635.8 1.486 1.2\\
636.8 1.45 5\\638.0 1.5 18\\639.1 1.6 42\\639.8 1.657 51.2\\640.6 1.689 42\\641.6 1.664 13\\642.8 1.563 0.5\\643.7 1.486 1.2\\
644.7 1.45 5\\645.9 1.5 18\\647.0 1.6 42\\647.7 1.657 51.2\\648.5 1.689 42\\649.5 1.664 13\\650.7 1.563 0.5\\651.6 1.486 1.2\\
652.6 1.45 5\\653.8 1.5 18\\654.9 1.6 42\\655.6 1.657 51.2\\656.4 1.689 42\\657.4 1.664 13\\658.6 1.563 0.5\\659.5 1.486 1.2\\
660.5 1.45 5\\661.7 1.5 18\\662.8 1.6 42\\663.5 1.657 51.2\\664.3 1.689 42\\665.3 1.664 13\\666.5 1.563 0.5\\667.4 1.486 1.2\\
668.4 1.45 5\\669.6 1.5 18\\670.7 1.6 42\\671.4 1.657 51.2\\672.2 1.689 42\\673.2 1.664 13\\674.4 1.563 0.5\\675.3 1.486 1.2\\
676.3 1.45 5\\677.5 1.5 18\\678.6 1.6 42\\679.3 1.657 51.2\\680.1 1.689 42\\681.1 1.664 13\\682.3 1.563 0.5\\683.2 1.486 1.2\\
684.3 1.45 5\\685.5 1.5 18\\686.6 1.6 42\\687.3 1.657 51.2\\688.1 1.689 42\\689.1 1.664 13\\690.3 1.563 0.5\\691.2 1.486 1.2\\
692.2 1.45 5\\693.4 1.5 18\\694.5 1.6 42\\695.2 1.657 51.2\\696.0 1.689 42\\697.0 1.664 13\\698.2 1.563 0.5\\699.1 1.486 1.2\\
700.1 1.45 5\\701.3 1.5 18\\702.4 1.6 42\\703.1 1.657 51.2\\703.9 1.689 42\\704.9 1.664 13\\706.1 1.563 0.5\\707.0 1.486 1.2\\
708.0 1.45 5\\709.2 1.5 18\\710.3 1.6 42\\711.0 1.657 51.2\\711.8 1.689 42\\712.8 1.664 13\\714.0 1.563 0.5\\714.9 1.486 1.2\\
715.9 1.45 5\\717.1 1.5 18\\718.2 1.6 42\\718.9 1.657 51.2\\719.7 1.689 42\\720.7 1.664 13\\721.9 1.563 0.5\\722.8 1.486 1.2\\
723.8 1.45 5\\725.0 1.5 18\\726.1 1.6 42\\726.8 1.657 51.2\\727.6 1.689 42\\728.6 1.664 13\\729.8 1.563 0.5\\730.7 1.486 1.2\\
731.7 1.45 5\\732.9 1.5 18\\734.0 1.6 42\\734.7 1.657 51.2\\735.5 1.689 42\\736.5 1.664 13\\737.7 1.563 0.5\\738.6 1.486 1.2\\
739.6 1.45 5\\740.8 1.5 18\\741.9 1.6 42\\742.6 1.657 51.2\\743.4 1.689 42\\744.4 1.664 13\\745.6 1.563 0.5\\746.5 1.486 1.2\\
747.5 1.45 5\\748.7 1.5 18\\749.8 1.6 42\\750.5 1.657 51.2\\751.3 1.689 42\\752.3 1.664 13\\753.5 1.563 0.5\\754.4 1.486 1.2\\
755.4 1.45 5\\756.6 1.5 18\\757.7 1.6 42\\758.4 1.657 51.2\\759.2 1.689 42\\760.2 1.664 13\\761.4 1.563 0.5\\762.3 1.486 1.2\\
763.3 1.45 5\\764.5 1.5 18\\765.6 1.6 42\\766.3 1.657 51.2\\767.1 1.689 42\\768.1 1.664 13\\769.3 1.563 0.5\\770.2 1.486 1.2\\
771.2 1.45 5\\772.4 1.5 18\\773.5 1.6 42\\774.2 1.657 51.2\\775.0 1.689 42\\776.0 1.664 13\\777.2 1.563 0.5\\778.1 1.486 1.2\\
779.1 1.45 5\\780.3 1.5 18\\781.4 1.6 42\\782.1 1.657 51.2\\782.9 1.689 42\\783.9 1.664 13\\785.1 1.563 0.5\\786.0 1.486 1.2\\
787.0 1.45 5\\788.2 1.5 18\\789.3 1.6 42\\790.0 1.657 51.2\\790.8 1.689 42\\791.8 1.664 13\\793.0 1.563 0.5\\793.9 1.486 1.2\\
794.9 1.45 5\\796.1 1.5 18\\797.2 1.6 42\\797.9 1.657 51.2\\798.7 1.689 42\\799.7 1.664 13\\800.9 1.563 0.5\\801.8 1.486 1.2\\
802.8 1.45 5\\804.0 1.5 18\\805.1 1.6 42\\805.8 1.657 51.2\\806.6 1.689 42\\807.6 1.664 13\\808.8 1.563 0.5\\809.7 1.486 1.2\\
810.7 1.45 5\\811.9 1.5 18\\813.0 1.6 42\\813.7 1.657 51.2\\814.5 1.689 42\\815.5 1.664 13\\816.7 1.563 0.5\\817.6 1.486 1.2\\
818.6 1.45 5\\819.8 1.5 18\\820.9 1.6 42\\821.6 1.657 51.2\\822.4 1.689 42\\823.4 1.664 13\\824.6 1.563 0.5\\825.5 1.486 1.2\\
826.5 1.45 5\\827.7 1.5 18\\828.8 1.6 42\\829.5 1.657 51.2\\830.3 1.689 42\\831.3 1.664 13\\832.5 1.563 0.5\\833.4 1.486 1.2\\
834.4 1.45 5\\835.6 1.5 18\\836.7 1.6 42\\837.4 1.657 51.2\\838.2 1.689 42\\839.2 1.664 13\\840.4 1.563 0.5\\841.3 1.486 1.2\\
842.3 1.45 5\\843.5 1.5 18\\844.6 1.6 42\\845.3 1.657 51.2\\846.1 1.689 42\\847.1 1.664 13\\848.3 1.563 0.5\\849.2 1.486 1.2\\
850.2 1.45 5\\851.4 1.5 18\\852.5 1.6 42\\853.2 1.657 51.2\\854.0 1.689 42\\855.0 1.664 13\\856.2 1.563 0.5\\857.1 1.486 1.2\\
858.1 1.45 5\\859.3 1.5 18\\860.4 1.6 42\\861.1 1.657 51.2\\861.9 1.689 42\\862.9 1.664 13\\864.1 1.563 0.5\\865.0 1.486 1.2\\
866.0 1.45 5\\867.2 1.5 18\\868.3 1.6 42\\869.0 1.657 51.2\\869.8 1.689 42\\870.8 1.664 13\\872.0 1.563 0.5\\872.9 1.486 1.2\\
873.9 1.45 5\\875.1 1.5 18\\876.2 1.6 42\\876.9 1.657 51.2\\877.7 1.689 42\\878.7 1.664 13\\879.9 1.563 0.5\\880.8 1.486 1.2\\
881.8 1.45 5\\883.0 1.5 18\\884.1 1.6 42\\884.8 1.657 51.2\\885.6 1.689 42\\886.6 1.664 13\\887.8 1.563 0.5\\888.7 1.486 1.2\\
889.7 1.45 5\\890.9 1.5 18\\892.0 1.6 42\\892.7 1.657 51.2\\893.5 1.689 42\\894.5 1.664 13\\895.7 1.563 0.5\\896.6 1.486 1.2\\
897.6 1.45 5\\898.8 1.5 18\\899.9 1.6 42\\900.6 1.657 51.2\\901.4 1.689 42\\902.4 1.664 13\\903.6 1.563 0.5\\904.5 1.486 1.2\\
905.5 1.45 5\\906.7 1.5 18\\907.8 1.6 42\\908.5 1.657 51.2\\909.3 1.689 42\\910.3 1.664 13\\911.5 1.563 0.5\\912.4 1.486 1.2\\
913.4 1.45 5\\914.6 1.5 18\\915.7 1.6 42\\916.4 1.657 51.2\\917.2 1.689 42\\918.2 1.664 13\\919.4 1.563 0.5\\920.3 1.486 1.2\\
921.3 1.45 5\\922.5 1.5 18\\923.6 1.6 42\\924.3 1.657 51.2\\925.1 1.689 42\\926.1 1.664 13\\927.3 1.563 0.5\\928.2 1.486 1.2\\
929.2 1.45 5\\930.4 1.5 18\\931.5 1.6 42\\932.2 1.657 51.2\\933.0 1.689 42\\934.0 1.664 13\\935.2 1.563 0.5\\936.1 1.486 1.2\\
937.1 1.45 5\\938.3 1.5 18\\939.4 1.6 42\\940.1 1.657 51.2\\940.9 1.689 42\\941.9 1.664 13\\943.1 1.563 0.5\\944.0 1.486 1.2\\
945.0 1.45 5\\946.2 1.5 18\\947.3 1.6 42\\948.0 1.657 51.2\\948.8 1.689 42\\949.8 1.664 13\\951.0 1.563 0.5\\951.9 1.486 1.2\\
952.9 1.45 5\\954.1 1.5 18\\955.2 1.6 42\\955.9 1.657 51.2\\956.7 1.689 42\\957.7 1.664 13\\958.9 1.563 0.5\\959.8 1.486 1.2\\
960.8 1.45 5\\962.0 1.5 18\\963.1 1.6 42\\963.8 1.657 51.2\\964.6 1.689 42\\965.6 1.664 13\\966.8 1.563 0.5\\967.7 1.486 1.2\\
968.7 1.45 5\\969.9 1.5 18\\971.0 1.6 42\\971.7 1.657 51.2\\972.5 1.689 42\\973.5 1.664 13\\974.7 1.563 0.5\\975.6 1.486 1.2\\
976.6 1.45 5\\977.8 1.5 18\\978.9 1.6 42\\979.6 1.657 51.2\\980.4 1.689 42\\981.4 1.664 13\\982.6 1.563 0.5\\983.5 1.486 1.2\\
984.5 1.45 5\\985.7 1.5 18\\986.8 1.6 42\\987.5 1.657 51.2\\988.3 1.689 42\\989.3 1.664 13\\990.5 1.563 0.5\\991.4 1.486 1.2\\
992.4 1.45 5\\993.6 1.5 18\\994.7 1.6 42\\995.4 1.657 51.2\\996.2 1.689 42\\997.2 1.664 13\\998.4 1.563 0.5\\999.3 1.486 1.2\\
1000.3 1.45 5\\
}\bluedata

\pgfplotsset{
  octave/.style={
    scale only axis,
    width=490.9mm,
    xmin=0, xmax=1000,
    xtick={0,100,...,1000},
    axis line style={black!70, line width=0.7pt},
    tick style={black!70, line width=0.7pt},
    major tick length=4.5mm,
    tick align=inside,
    clip=true,
    tick label style={font=\octfont\fontsize{13}{15}\selectfont, text=black!75},
    /pgf/number format/assume math mode=true,
    /pgf/number format/1000 sep={},
    x tick label style={yshift=-0.7mm},
    y tick label style={xshift=-0.5mm},
  },
  blueline/.style={oblue, line width=1pt, line join=round},
  orangeline/.style={oorange, line width=1pt, line join=round},
}

\begin{document}
\begin{tikzpicture}
\path (0mm,0mm) rectangle (516.5mm,667.25mm);

% panel (a)
\begin{axis}[octave, at={(13.75mm,386.8mm)}, anchor=south west,
    height=271mm, ymin=1.4, ymax=3,
    ytick={1.4,1.6,1.8,2,2.2,2.4,2.6,2.8,3}]
\addplot[blueline] coordinates {
(0,1.705) (50,1.705) (55,1.704) (59,1.706) (63.6,1.709) (65.8,1.704)
(67.9,1.700) (69.6,1.705) (71.3,1.711) (72.6,1.70) (73.6,1.68) (74.7,1.663)
(75.8,1.675) (77.3,1.70) (78.8,1.709) (80.3,1.711) (81.4,1.69) (82.3,1.60)
(83.3,1.49) (84.3,1.56) (85.5,1.645) (86.6,1.685) (87.9,1.698) (89.0,1.68)
(90.0,1.60) (90.8,1.52) (91.6,1.45)
};
\addplot[blueline] table[x=x, y=a] {\bluedata};
\addplot[orangeline] coordinates {
(0,1.72) (0.2,1.86) (0.5,2.0) (1.0,2.13) (1.7,2.23) (2.5,2.29) (4.2,2.40)
(5.8,2.47) (7.6,2.515) (10,2.54) (12.7,2.559) (15.3,2.574) (16.8,2.56)
(18.2,2.532) (19.4,2.58) (20.7,2.608) (22.9,2.593) (24.3,2.56) (24.9,2.45)
(25.5,2.343) (26.4,2.52) (27.7,2.746) (29.6,2.70) (31.4,2.648) (32.1,2.50)
(32.8,2.357) (34.2,2.58) (35.8,2.792) (37.8,2.73) (39.9,2.682) (40.5,2.52)
(41.1,2.37) (42.3,2.55) (43.8,2.8)
};
\addplot[orangeline] table[x=x, y=a] {\orangedata};
\end{axis}

% panel (b)
\begin{axis}[octave, at={(13.75mm,49.75mm)}, anchor=south west,
    height=270.2mm, ymin=0, ymax=90,
    ytick={0,10,20,30,40,50,60,70,80,90}]
\addplot[blueline] coordinates {
(0,1.9) (52,1.9) (56,1.95) (60,1.85) (63.6,2.28) (65.3,2.0) (67.1,1.64)
(69.0,2.5) (70.9,3.5) (72.8,1.8) (74.7,0.68) (76.2,3) (77.5,8) (78.6,12.35)
(79.6,9) (80.7,3) (81.6,0.6) (82.3,0.2) (83.3,1.5) (84.4,8) (85.4,26)
(86.0,42) (86.6,50) (87.4,42) (88.4,13) (89.6,0.5) (90.5,1.2) (91.6,5)
};
\addplot[blueline] table[x=x, y=b] {\bluedata};
\addplot[orangeline] coordinates {
(0,1.9) (2,1.9) (4.5,2.2) (7.1,2.6) (9,2.1) (10.7,1.65) (12.6,2.8) (14.4,4.05)
(16.2,2.2) (17.8,0.68) (19.4,2.5) (20.7,9) (22.1,17.05) (23.2,8) (24.2,1.5)
(24.9,0.2) (25.8,1.5) (26.8,8) (27.8,30) (28.8,60) (29.7,80) (30.4,65)
(31.4,30) (32.6,1) (33.2,0.4) (34.3,4) (35.3,14) (36.3,38) (37.1,66)
(37.9,84.0) (38.7,67) (40.0,12) (40.8,0.3) (41.4,1.2) (42.5,8) (43.8,42)
};
\addplot[orangeline] table[x=x, y=b] {\orangedata};
\end{axis}

\node[font=\fontsize{32}{38}\selectfont] at (267.7mm,345.1mm) {(\textbf{a})};
\node[font=\fontsize{32}{38}\selectfont] at (267.7mm,10.7mm) {(\textbf{b})};
\end{tikzpicture}
\end{document}
